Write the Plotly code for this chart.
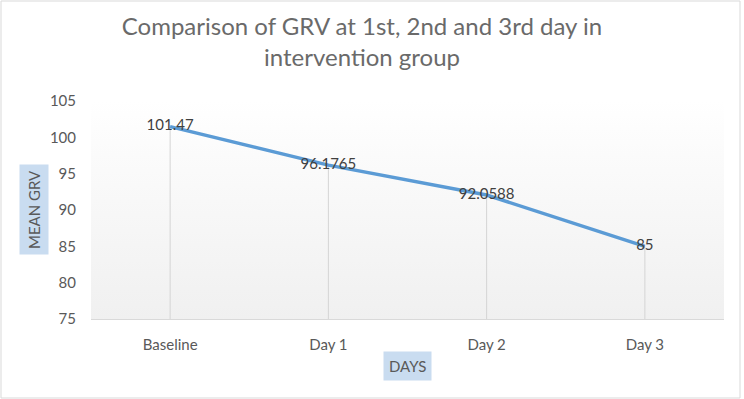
import plotly.graph_objects as go

categories = ["Baseline", "Day 1", "Day 2", "Day 3"]
mean_grv = [101.47, 96.1765, 92.0588, 85]
value_labels = ["101.47", "96.1765", "92.0588", "85"]
y_ticks = [75, 80, 85, 90, 95, 100, 105]

Y_MIN, Y_MAX = 75, 105
W, H = 744, 399
ML, MR, MT, MB = 91, 20, 101, 80
PW, PH = W - ML - MR, H - MT - MB

FONT = "Lato"
GREY = "#595959"

xpos = list(range(len(categories)))
X_MIN, X_MAX = -0.5, len(categories) - 0.5

fig = go.Figure()

# gradient plot background
fig.add_trace(go.Scatter(
    x=[X_MIN, X_MAX, X_MAX, X_MIN, X_MIN], y=[Y_MIN, Y_MIN, Y_MAX, Y_MAX, Y_MIN],
    mode="lines", line=dict(width=0), fill="toself",
    fillgradient=dict(type="vertical",
                      colorscale=[[0, "#f0f0f0"], [0.75, "#fbfbfb"], [1, "#ffffff"]]),
    hoverinfo="skip", showlegend=False))

# drop lines
dx, dy = [], []
for xp, v in zip(xpos, mean_grv):
    dx += [xp, xp, None]
    dy += [Y_MIN, v, None]
fig.add_trace(go.Scatter(x=dx, y=dy, mode="lines",
                         line=dict(color="#d4d4d4", width=1),
                         hoverinfo="skip", showlegend=False))

fig.add_trace(go.Scatter(
    x=xpos, y=mean_grv, mode="lines+text",
    text=value_labels, textposition="middle center",
    textfont=dict(family=FONT, size=15, color="#404040"),
    line=dict(color="#5b9bd5", width=3.5), showlegend=False))

fig.update_layout(
    width=W, height=H,
    margin=dict(l=ML, r=MR, t=MT, b=MB, autoexpand=False),
    paper_bgcolor="white", plot_bgcolor="white",
    title=dict(text="Comparison of GRV at 1st, 2nd and 3rd day in<br>intervention group",
               x=362 / W, xanchor="center", y=1 - 35 / H, yanchor="middle",
               font=dict(family=FONT, size=24, color="#6a6a6a")),
    xaxis=dict(range=[X_MIN, X_MAX], tickvals=xpos, ticktext=categories,
               showgrid=False, zeroline=False, automargin=False,
               showline=True, linecolor="#d9d9d9", linewidth=1,
               ticks="", ticklabelstandoff=12,
               tickfont=dict(family=FONT, size=15, color=GREY)),
    yaxis=dict(range=[Y_MIN, Y_MAX], tickvals=y_ticks, showgrid=False,
               automargin=False,
               zeroline=False, showline=False, ticks="", ticklabelstandoff=14,
               tickfont=dict(family=FONT, size=15, color=GREY)),
    annotations=[
        dict(text="MEAN GRV", textangle=-90, xref="paper", yref="paper",
             x=(34 - ML) / PW, y=(MT + PH - 210) / PH,
             xanchor="center", yanchor="middle", showarrow=False,
             bgcolor="#c9dcf0", borderpad=5,
             font=dict(family=FONT, size=15, color=GREY)),
        dict(text="DAYS", xref="paper", yref="paper",
             x=(407 - ML) / PW, y=(MT + PH - 366) / PH,
             xanchor="center", yanchor="middle", showarrow=False,
             bgcolor="#c9dcf0", borderpad=5,
             font=dict(family=FONT, size=15, color=GREY)),
    ],
    shapes=[dict(type="rect", xref="paper", yref="paper",
                 x0=(1 - ML) / PW, x1=(740 - ML) / PW,
                 y0=(MT + PH - 398) / PH, y1=(MT + PH - 1) / PH,
                 line=dict(color="#d9d9d9", width=1), layer="below")],
)

fig.write_html("out.html", config={"displayModeBar": False},
               post_script="document.body.style.margin='0';document.body.style.overflow='hidden';")
